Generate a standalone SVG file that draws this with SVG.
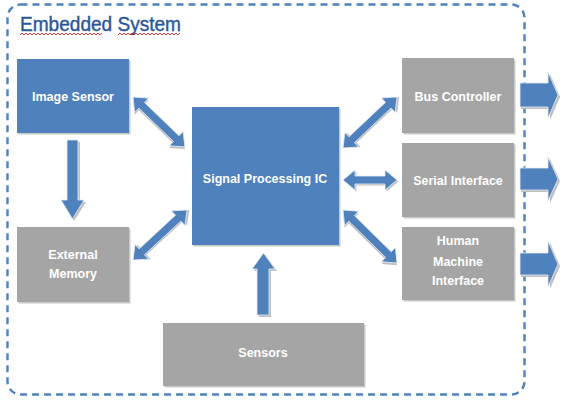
<svg xmlns="http://www.w3.org/2000/svg" width="562" height="400" viewBox="0 0 562 400">
<style>
.blue{fill:#4f81bd}
.gray{fill:#a5a5a5}
.shadow{fill:#c9c9c9}
.lbl{font-family:"Liberation Sans",Arial,sans-serif;font-weight:bold;font-size:12.5px;fill:#ffffff;text-anchor:middle;dominant-baseline:central}
.arr{fill:#4f81bd;stroke:#e6ecf5;stroke-width:0.8}
.arrsh{fill:#bfbfbf}
</style>
<rect width="562" height="400" fill="#ffffff"/>
<rect x="7.5" y="4.5" width="517" height="390" rx="13" fill="none" stroke="#4f81bd" stroke-width="2.4" stroke-dasharray="7 5"/>
<g id="title">
<text x="20" y="31" font-family="Liberation Sans,Arial,sans-serif" font-size="20" fill="#2b579a" stroke="#2b579a" stroke-width="0.4" textLength="161" lengthAdjust="spacingAndGlyphs">Embedded System</text>
<path d="M20,35 l2,-2 l2,2 l2,-2 l2,2 l2,-2 l2,2 l2,-2 l2,2 l2,-2 l2,2 l2,-2 l2,2 l2,-2 l2,2 l2,-2 l2,2 l2,-2 l2,2 l2,-2 l2,2 l2,-2 l2,2 l2,-2 l2,2 l2,-2 l2,2 l2,-2 l2,2 l2,-2 l2,2 l2,-2 l2,2 l2,-2 l2,2 l2,-2 l2,2 l2,-2 l2,2 l2,-2 l2,2 l2,-2" fill="none" stroke="#e00000" stroke-width="0.8"/>
<path d="M118,35 l2,-2 l2,2 l2,-2 l2,2 l2,-2 l2,2 l2,-2 l2,2 l2,-2 l2,2 l2,-2 l2,2 l2,-2 l2,2 l2,-2 l2,2 l2,-2 l2,2 l2,-2 l2,2 l2,-2 l2,2 l2,-2 l2,2 l2,-2 l2,2 l2,-2 l2,2 l2,-2 l2,2 l2,-2" fill="none" stroke="#e00000" stroke-width="0.8"/>
</g>
<g id="connectors">
<path class="arrsh" d="M69,142 H80 V202 H86 L74,221 L63,202 H69 Z"/>
<path class="arr" d="M67,140 H78 V200 H84 L72.5,219 L61,200 H67 Z"/>
<path class="arrsh" d="M259,317 V271 H254 L265.5,255 L277,271 H271 V317 Z"/>
<path class="arr" d="M257,315 V269 H252 L263.5,253 L275,269 H269 V315 Z"/>
<g transform="translate(133,97) rotate(43.9)">
<path class="arrsh" transform="translate(1.5,1.5)" d="M0,0 L12,-10 L12,-4 L60,-4 L60,-10 L72,0 L60,10 L60,4 L12,4 L12,10 Z"/>
<path class="arr" d="M0,0 L12,-10 L12,-4 L60,-4 L60,-10 L72,0 L60,10 L60,4 L12,4 L12,10 Z"/>
</g>
<g transform="translate(133,260) rotate(-42.8)">
<path class="arrsh" transform="translate(1.5,1.5)" d="M0,0 L12,-10 L12,-4 L61.6,-4 L61.6,-10 L73.6,0 L61.6,10 L61.6,4 L12,4 L12,10 Z"/>
<path class="arr" d="M0,0 L12,-10 L12,-4 L61.6,-4 L61.6,-10 L73.6,0 L61.6,10 L61.6,4 L12,4 L12,10 Z"/>
</g>
<g transform="translate(343,148) rotate(-43.4)">
<path class="arrsh" transform="translate(1.5,1.5)" d="M0,0 L12,-10 L12,-4 L62.3,-4 L62.3,-10 L74.3,0 L62.3,10 L62.3,4 L12,4 L12,10 Z"/>
<path class="arr" d="M0,0 L12,-10 L12,-4 L62.3,-4 L62.3,-10 L74.3,0 L62.3,10 L62.3,4 L12,4 L12,10 Z"/>
</g>
<g transform="translate(343,180)">
<path class="arrsh" transform="translate(1.5,1.5)" d="M0,0 L12,-10 L12,-4 L42,-4 L42,-10 L54,0 L42,10 L42,4 L12,4 L12,10 Z"/>
<path class="arr" d="M0,0 L12,-10 L12,-4 L42,-4 L42,-10 L54,0 L42,10 L42,4 L12,4 L12,10 Z"/>
</g>
<g transform="translate(343,210) rotate(44.5)">
<path class="arrsh" transform="translate(1.5,1.5)" d="M0,0 L12,-10 L12,-4 L63.7,-4 L63.7,-10 L75.7,0 L63.7,10 L63.7,4 L12,4 L12,10 Z"/>
<path class="arr" d="M0,0 L12,-10 L12,-4 L63.7,-4 L63.7,-10 L75.7,0 L63.7,10 L63.7,4 L12,4 L12,10 Z"/>
</g>
<path class="arrsh" d="M521,85 H550 V74 L560,97 L550,120 V109 H521 Z"/>
<path class="arr" d="M520,83 H548 V72 L558,95 L548,118 V107 H520 Z"/>
<path class="arrsh" d="M521,170 H550 V159 L560,181 L550,203 V192 H521 Z"/>
<path class="arr" d="M520,168 H548 V157 L558,179 L548,201 V190 H520 Z"/>
<path class="arrsh" d="M521,255 H550 V243 L560,266 L550,289 V277 H521 Z"/>
<path class="arr" d="M520,253 H548 V241 L558,264 L548,287 V275 H520 Z"/>
</g>
<g id="image-sensor">
<rect class="shadow" x="18.5" y="60.5" width="112" height="74"/>
<rect class="blue" x="17" y="59" width="112" height="74"/>
<text class="lbl" x="73" y="97">Image Sensor</text>
</g>
<g id="external-memory">
<rect class="shadow" x="18.5" y="228.5" width="112" height="75"/>
<rect class="gray" x="17" y="227" width="112" height="75"/>
<text class="lbl" x="73" y="255">External</text>
<text class="lbl" x="73" y="274">Memory</text>
</g>
<g id="signal-processing-ic">
<rect class="shadow" x="193.5" y="108.5" width="147" height="138"/>
<rect class="blue" x="192" y="107" width="147" height="138"/>
<text class="lbl" x="265" y="179">Signal Processing IC</text>
</g>
<g id="sensors">
<rect class="shadow" x="164.5" y="324.5" width="201" height="63"/>
<rect class="gray" x="163" y="323" width="201" height="63"/>
<text class="lbl" x="263" y="353">Sensors</text>
</g>
<g id="bus-controller">
<rect class="shadow" x="403.5" y="59.5" width="112" height="75"/>
<rect class="gray" x="402" y="58" width="112" height="75"/>
<text class="lbl" x="458" y="97">Bus Controller</text>
</g>
<g id="serial-interface">
<rect class="shadow" x="403.5" y="144.5" width="112" height="74"/>
<rect class="gray" x="402" y="143" width="112" height="74"/>
<text class="lbl" x="458" y="181">Serial Interface</text>
</g>
<g id="human-machine-interface">
<rect class="shadow" x="403.5" y="228.5" width="112" height="73"/>
<rect class="gray" x="402" y="227" width="112" height="73"/>
<text class="lbl" x="458" y="241">Human</text>
<text class="lbl" x="458" y="262">Machine</text>
<text class="lbl" x="458" y="281">Interface</text>
</g>
</svg>
